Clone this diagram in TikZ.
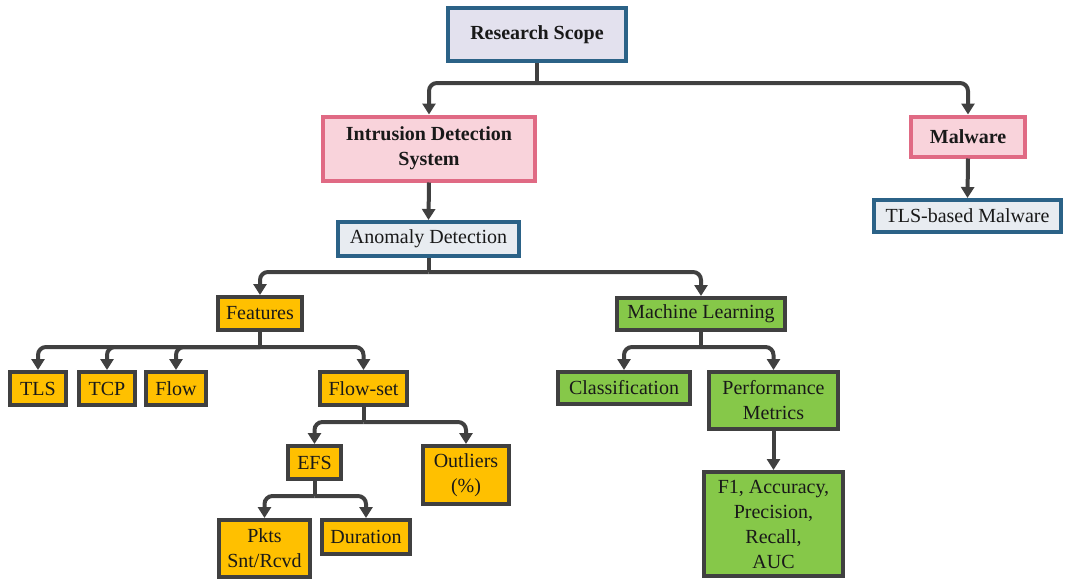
\documentclass[tikz,border=0pt]{standalone}
\usepackage{fontspec}
\setmainfont{Liberation Serif}
\newfontfamily\labelfont{Liberation Serif}
\usetikzlibrary{arrows.meta}
\definecolor{scopefill}{HTML}{E3E1EE}
\definecolor{blueedge}{HTML}{2B6287}
\definecolor{pinkfill}{HTML}{F9D3DB}
\definecolor{pinkedge}{HTML}{E06A84}
\definecolor{greyfill}{HTML}{E8ECF1}
\definecolor{amber}{HTML}{FFC000}
\definecolor{leaf}{HTML}{86C849}
\definecolor{darkedge}{HTML}{404040}
\begin{document}
\begin{tikzpicture}[x=1pt,y=1pt,
  every node/.style={font=\labelfont\fontsize{20}{25}\selectfont, inner sep=0pt, align=center, line width=4pt, text=black!90},
  bluebox/.style={draw=blueedge, fill=#1},
  pinkbox/.style={draw=pinkedge, fill=pinkfill, font=\labelfont\fontsize{20}{25}\selectfont\bfseries},
  amberbox/.style={draw=darkedge, fill=amber},
  greenbox/.style={draw=darkedge, fill=leaf},
  sz/.style 2 args={minimum width=#1, minimum height=#2},
  stem/.style={draw=darkedge, line width=4pt},
  conn/.style={draw=darkedge, line width=4pt, rounded corners=8pt, -{Triangle[length=11pt,width=13pt]}}]
\useasboundingbox (0,0) rectangle (1066,-581);

% top levels
\node[bluebox=scopefill, sz={178}{53}, font=\labelfont\fontsize{20}{25}\selectfont\bfseries] (rs) at (537,-34.5) {Research Scope};
\node[pinkbox, sz={212}{64}] (ids) at (429,-148.5) {Intrusion Detection\\System};
\node[pinkbox, sz={114}{40}] (mal) at (968,-136.5) {Malware};
\node[bluebox=greyfill, sz={187}{32}] (tlsm) at (967.5,-216) {TLS-based Malware};
\node[bluebox=greyfill, sz={181}{34}] (ad) at (428.5,-239) {Anomaly Detection};

% features branch
\node[amberbox, sz={84}{33}] (feat) at (260,-313.5) {Features};
\node[amberbox, sz={56}{33}] (tls) at (38,-388.5) {TLS};
\node[amberbox, sz={56}{33}] (tcp) at (107,-388.5) {TCP};
\node[amberbox, sz={60}{33}] (flow) at (176,-388.5) {Flow};
\node[amberbox, sz={87}{33}] (fset) at (363.5,-388.5) {Flow-set};
\node[amberbox, sz={53}{33}] (efs) at (314.5,-462.5) {EFS};
\node[amberbox, sz={86}{58}] (out) at (466,-475) {Outliers\\(\%)};
\node[amberbox, sz={91}{57}] (pkts) at (264.5,-548.5) {Pkts\\Snt/Rcvd};
\node[amberbox, sz={88}{34}] (dur) at (366,-537) {Duration};

% machine learning branch
\node[greenbox, sz={168}{32}] (ml) at (701,-314) {Machine Learning};
\node[greenbox, sz={132}{32}] (cls) at (624,-388) {Classification};
\node[greenbox, sz={129}{57}] (pm) at (773.5,-400.5) {Performance\\Metrics};
\node[greenbox, sz={139}{104}] (f1) at (773.5,-524) {F1, Accuracy,\\Precision,\\Recall,\\AUC};

% junction points of the branching connectors
\coordinate (jrs) at (rs.south |- 0,-83);
\coordinate (jad) at (ad.south |- 0,-272);
\coordinate (jfeat) at (feat.south |- 0,-347);
\coordinate (jml) at (ml.south |- 0,-347);
\coordinate (jfset) at (fset.south |- 0,-422);
\coordinate (jefs) at (efs.south |- 0,-496);

% connectors
\draw[stem] (rs.south) -- (jrs);
\draw[conn] (jrs) -| (ids.north);
\draw[conn] (jrs) -| (mal.north);
\draw[conn] (mal.south) -- (tlsm.north);
\draw[conn] (ids.south) -- (ad.north);

\draw[stem] (ad.south) -- (jad);
\draw[conn] (jad) -| (feat.north);
\draw[conn] (jad) -| (ml.north);

\draw[stem] (feat.south) -- (jfeat);
\draw[conn] (jfeat) -| (tls.north);
\draw[conn] (jfeat) -| (tcp.north);
\draw[conn] (jfeat) -| (flow.north);
\draw[conn] (jfeat) -| (fset.north);

\draw[stem] (fset.south) -- (jfset);
\draw[conn] (jfset) -| (efs.north);
\draw[conn] (jfset) -| (out.north);

\draw[stem] (efs.south) -- (jefs);
\draw[conn] (jefs) -| (pkts.north);
\draw[conn] (jefs) -| (dur.north);

\draw[stem] (ml.south) -- (jml);
\draw[conn] (jml) -| (cls.north);
\draw[conn] (jml) -| (pm.north);
\draw[conn] (pm.south) -- (f1.north);
\end{tikzpicture}
\end{document}
